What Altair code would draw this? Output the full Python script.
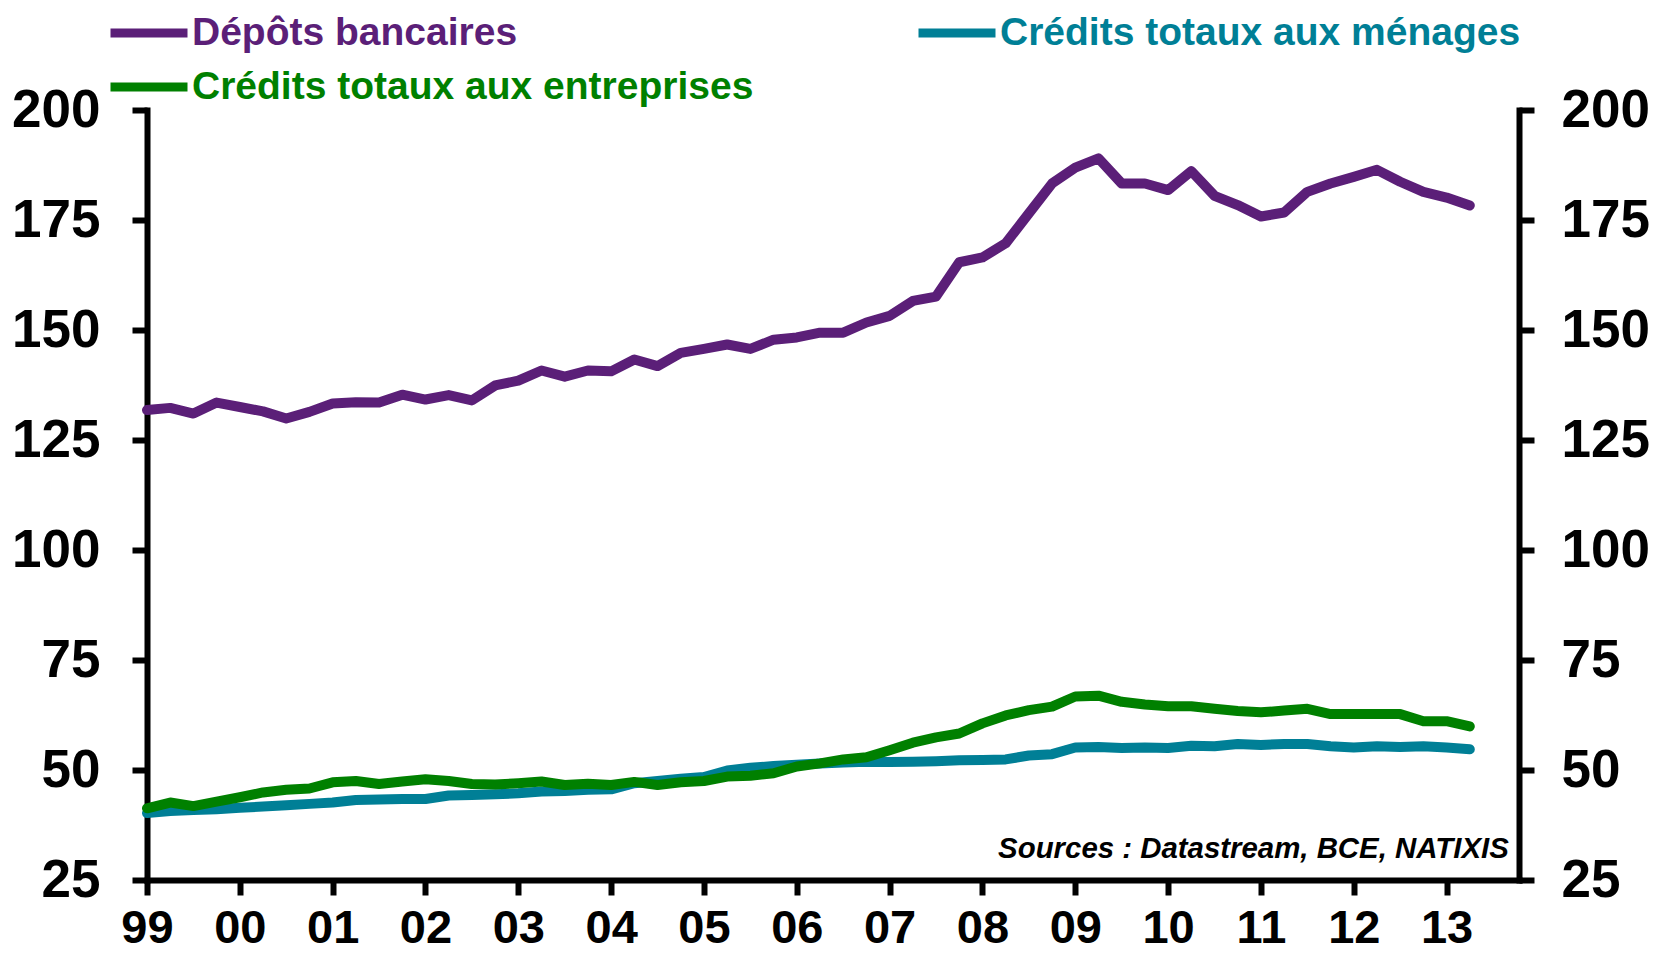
import altair as alt
import pandas as pd

# Quarterly dates (year fractions), 1999Q1 .. 2013Q2
quarters = [1999.0, 1999.25, 1999.5, 1999.75, 2000.0, 2000.25, 2000.5, 2000.75,
            2001.0, 2001.25, 2001.5, 2001.75, 2002.0, 2002.25, 2002.5, 2002.75,
            2003.0, 2003.25, 2003.5, 2003.75, 2004.0, 2004.25, 2004.5, 2004.75,
            2005.0, 2005.25, 2005.5, 2005.75, 2006.0, 2006.25, 2006.5, 2006.75,
            2007.0, 2007.25, 2007.5, 2007.75, 2008.0, 2008.25, 2008.5, 2008.75,
            2009.0, 2009.25, 2009.5, 2009.75, 2010.0, 2010.25, 2010.5, 2010.75,
            2011.0, 2011.25, 2011.5, 2011.75, 2012.0, 2012.25, 2012.5, 2012.75,
            2013.0, 2013.25]

depots = [131.8, 132.3, 131.0, 133.5, 132.5, 131.5, 129.9, 131.4,
          133.3, 133.6, 133.5, 135.3, 134.2, 135.2, 134.0, 137.4,
          138.5, 140.8, 139.4, 140.8, 140.6, 143.3, 141.8, 144.8,
          145.7, 146.7, 145.7, 147.8, 148.3, 149.4, 149.4, 151.7,
          153.2, 156.6, 157.6, 165.4, 166.5, 169.7, 176.5, 183.3,
          186.9, 189.0, 183.3, 183.3, 181.8, 186.1, 180.5, 178.4,
          175.8, 176.7, 181.4, 183.3, 184.8, 186.4, 183.7, 181.4,
          180.1, 178.3]

menages = [40.2, 40.7, 40.9, 41.1, 41.4, 41.7, 42.0, 42.3,
           42.6, 43.2, 43.3, 43.4, 43.4, 44.2, 44.3, 44.5,
           44.7, 45.1, 45.2, 45.5, 45.6, 47.0, 47.5, 48.0,
           48.4, 49.9, 50.5, 50.9, 51.2, 51.5, 51.7, 51.9,
           51.8, 51.9, 52.0, 52.2, 52.3, 52.4, 53.3, 53.6,
           55.1, 55.2, 55.0, 55.1, 55.0, 55.5, 55.4, 55.9,
           55.7, 55.9, 55.9, 55.4, 55.1, 55.4, 55.2, 55.4,
           55.1, 54.7]

entreprises = [41.3, 42.6, 41.8, 42.8, 43.8, 44.9, 45.5, 45.8,
               47.2, 47.5, 46.8, 47.4, 47.9, 47.5, 46.8, 46.7,
               47.0, 47.4, 46.6, 46.9, 46.6, 47.3, 46.6, 47.2,
               47.5, 48.5, 48.7, 49.25, 50.8, 51.5, 52.4, 52.9,
               54.5, 56.2, 57.4, 58.3, 60.6, 62.4, 63.6, 64.4,
               66.7, 66.9, 65.5, 64.9, 64.5, 64.5, 63.9, 63.4,
               63.1, 63.5, 63.9, 62.7, 62.7, 62.7, 62.7, 61.1,
               61.1, 59.9]

# drawing order (first drawn at the bottom)
series_names = ["Dépôts bancaires", "Crédits totaux aux ménages", "Crédits totaux aux entreprises"]
# legend order (legend grid is filled column by column)
legend_order = ["Dépôts bancaires", "Crédits totaux aux entreprises", "Crédits totaux aux ménages"]
legend_colors = ["#5B1F78", "#008000", "#007F96"]

year_ticks = [1999, 2000, 2001, 2002, 2003, 2004, 2005, 2006, 2007, 2008,
              2009, 2010, 2011, 2012, 2013]
y_ticks = [25, 50, 75, 100, 125, 150, 175, 200]
x_domain = [1999, 2013.78]
y_domain = [25, 200]

source_text = ["Sources : Datastream, BCE, NATIXIS"]
source_x = [2013.67]
source_y = [30]

FONT = "Liberation Sans"

rows = []
for name, vals in zip(series_names, [depots, menages, entreprises]):
    for q, v in zip(quarters, vals):
        rows.append({"date": q, "value": v, "serie": name})
df = pd.DataFrame(rows)

src_df = pd.DataFrame({"date": source_x, "value": source_y, "label": source_text})

label_color_expr = (
    f"datum.value == '{legend_order[0]}' ? '{legend_colors[0]}' : "
    f"datum.value == '{legend_order[1]}' ? '{legend_colors[1]}' : '{legend_colors[2]}'"
)

x_scale = alt.Scale(domain=x_domain, nice=False, zero=False)
x_axis = alt.Axis(values=year_ticks, title=None, grid=False,
                  labelExpr="substring(toString(datum.value), 2)",
                  labelFlush=False, labelOverlap=False,
                  tickSize=15, labelPadding=10, labelFontSize=47)

lines = alt.Chart(df).mark_line(strokeWidth=10, strokeCap="round", strokeJoin="round").encode(
    x=alt.X("date:Q", scale=x_scale, axis=x_axis),
    y=alt.Y("value:Q", scale=alt.Scale(domain=y_domain, nice=False, zero=False),
            axis=alt.Axis(orient="left", values=y_ticks, title=None, grid=False,
                          tickSize=15, labelPadding=32, labelFontSize=53)),
    color=alt.Color("serie:N",
                    scale=alt.Scale(domain=legend_order, range=legend_colors),
                    legend=alt.Legend(orient="none", legendX=-22, legendY=-101,
                                      columns=2, columnPadding=146, rowPadding=10,
                                      title=None, padding=0,
                                      symbolType="M-2,0H2", symbolSize=1482,
                                      symbolStrokeWidth=9, labelOffset=19,
                                      labelFont=FONT, labelFontSize=39,
                                      labelFontWeight="bold", labelLimit=1000,
                                      labelColor={"expr": label_color_expr})),
)

src = alt.Chart(src_df).mark_text(align="right", baseline="alphabetic", font=FONT,
                                  fontSize=29.4, fontStyle="italic", fontWeight="bold",
                                  color="black").encode(
    x=alt.X("date:Q", scale=x_scale, axis=x_axis),
    y=alt.Y("value:Q", scale=alt.Scale(domain=y_domain, nice=False, zero=False),
            axis=alt.Axis(orient="right", values=y_ticks, title=None, grid=False,
                          tickSize=15, labelPadding=27, labelFontSize=53)),
    text="label:N",
)

chart = alt.layer(lines, src).resolve_scale(y="independent").properties(
    width=1372, height=770,
    autosize=alt.AutoSizeParams(type="none"),
    padding={"left": 139, "top": 102, "right": 130, "bottom": 78},
).configure_view(stroke=None).configure_axis(
    domainColor="black", domainWidth=6, domainCap="square",
    tickColor="black", tickWidth=6,
    labelFont=FONT, labelFontWeight="bold", labelColor="black",
)

chart.save("out.html", embed_options={"renderer": "svg", "actions": False})
